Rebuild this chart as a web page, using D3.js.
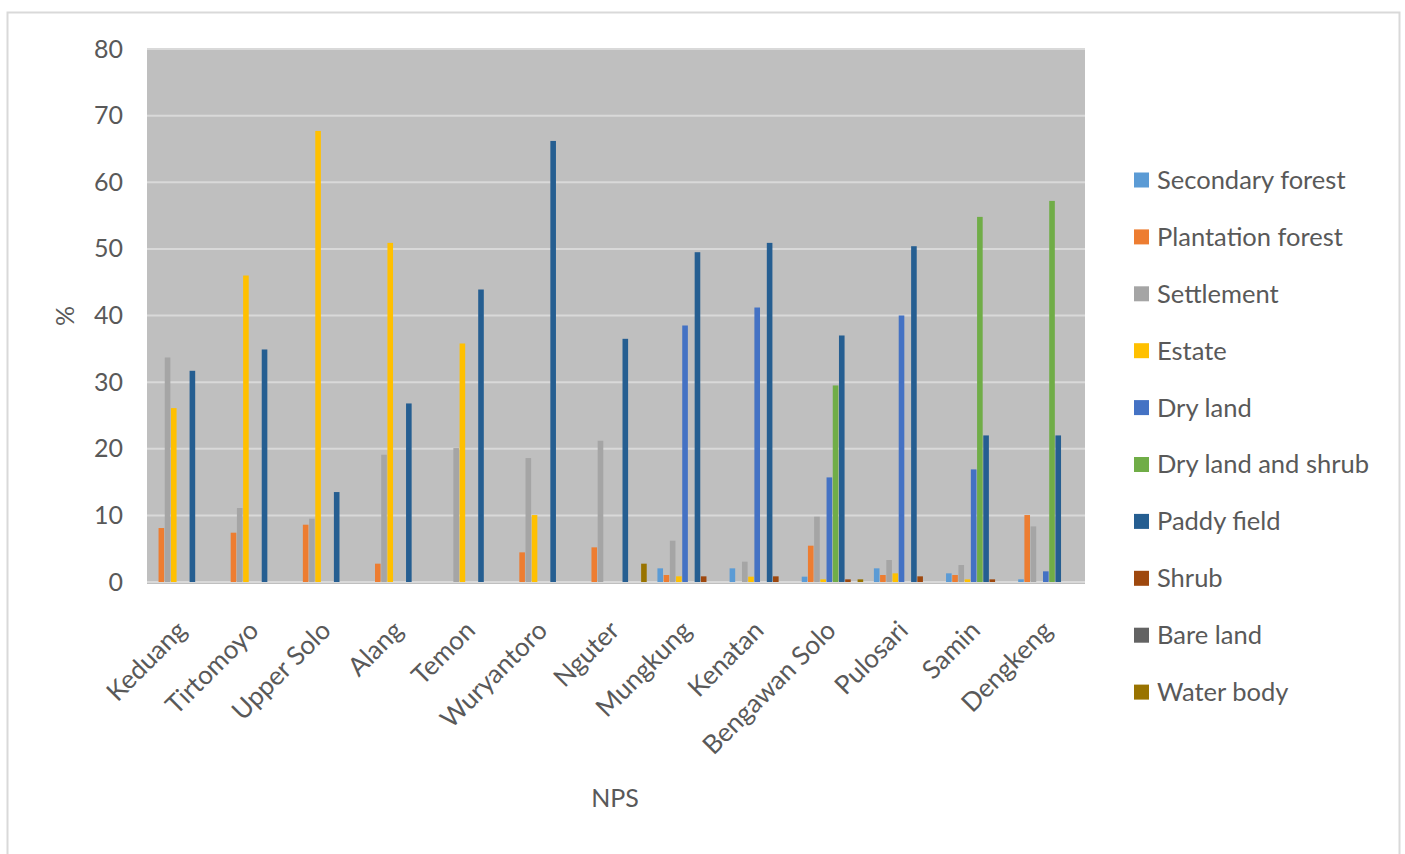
<!DOCTYPE html>
<html><head><meta charset="utf-8">
<script src="https://cdn.jsdelivr.net/npm/d3@7"></script>
<style>body{margin:0;background:#fff}svg{display:block}</style>
</head><body>
<svg id="c" width="1405" height="854"></svg>
<script>
const categories = ["Keduang","Tirtomoyo","Upper Solo","Alang","Temon","Wuryantoro","Nguter","Mungkung","Kenatan","Bengawan Solo","Pulosari","Samin","Dengkeng"];
const seriesNames = ["Secondary forest","Plantation forest","Settlement","Estate","Dry land","Dry land and shrub","Paddy field","Shrub","Bare land","Water body"];
const seriesColors = ["#5B9BD5","#ED7D31","#A5A5A5","#FFC000","#4472C4","#70AD47","#255E91","#9E480E","#636363","#997300"];
// values per series, in category order
const secondaryForest = [0,0,0,0,0,0,0,2.05,2.05,0.8,2.05,1.3,0.4];
const plantationForest = [8.1,7.4,8.6,2.75,0,4.45,5.2,1.05,0,5.45,1.05,1.05,10.05];
const settlement = [33.7,11.1,9.5,19.1,20.1,18.6,21.2,6.2,3.05,9.8,3.3,2.55,8.35];
const estate = [26.1,46.0,67.7,50.9,35.8,10.05,0,0.85,0.8,0.4,1.3,0.4,0];
const dryLand = [0,0,0,0,0,0,0,38.5,41.2,15.7,40.0,16.9,1.6];
const dryLandShrub = [0,0,0,0,0,0,0,0,0,29.5,0,54.8,57.2];
const paddyField = [31.7,34.9,13.5,26.8,43.9,66.2,36.5,49.5,50.9,37.0,50.4,22.0,22.0];
const shrub = [0,0,0,0,0,0,0,0.85,0.85,0.4,0.85,0.4,0];
const bareLand = [0,0,0,0,0,0,0,0,0,0,0,0,0];
const waterBody = [0,0,0,0,0,0,2.75,0,0,0.4,0,0,0];
const yTicks = [0,10,20,30,40,50,60,70,80];

const seriesValues = [secondaryForest,plantationForest,settlement,estate,dryLand,dryLandShrub,paddyField,shrub,bareLand,waterBody];

const svg = d3.select("#c");
const font = "Lato, 'Open Sans', sans-serif";
const textColor = "#595959";

// outer frame
svg.append("rect").attr("x",7.5).attr("y",12.5).attr("width",1392).attr("height",860)
  .attr("fill","#fff").attr("stroke","#d9d9d9").attr("stroke-width",2);

const plot = {left:147, right:1085, top:49, bottom:582};

const x0 = d3.scaleBand().domain(categories).range([plot.left, plot.right]).paddingInner(0.14).paddingOuter(0.07);
const x1 = d3.scaleBand().domain(seriesNames).range([0, x0.bandwidth()]).padding(0);
const y = d3.scaleLinear().domain([0,80]).range([plot.bottom, plot.top]);

svg.append("rect").attr("x",plot.left).attr("y",plot.top).attr("width",plot.right-plot.left).attr("height",plot.bottom-plot.top+2)
  .attr("fill","#bfbfbf");

// gridlines
svg.append("g").selectAll("line").data(yTicks).join("line")
  .attr("x1",plot.left).attr("x2",plot.right)
  .attr("y1",d=>y(d)).attr("y2",d=>y(d))
  .attr("stroke","#d9d9d9").attr("stroke-width",2);

// y axis labels
const yAxis = d3.axisLeft(y).tickValues(yTicks).tickSize(0).tickPadding(24);
const ya = svg.append("g").attr("transform",`translate(${plot.left},0)`).call(yAxis);
ya.select(".domain").remove();
ya.selectAll("text").attr("font-family",font).attr("font-size",25).attr("fill",textColor);

// bars
const groups = svg.append("g").selectAll("g").data(categories).join("g")
  .attr("transform",d=>`translate(${x0(d)},0)`);
groups.selectAll("rect").data((c,ci)=>seriesNames.map((s,si)=>({s,si,v:seriesValues[si][ci]})))
  .join("rect")
  .attr("x",d=>x1(d.s)+0.3).attr("width",x1.bandwidth()-0.6)
  .attr("y",d=>y(d.v)).attr("height",d=>y(0)-y(d.v))
  .attr("fill",d=>seriesColors[d.si]);

// x axis labels
const xAxis = d3.axisBottom(x0).tickSize(0).tickPadding(0);
const xa = svg.append("g").attr("transform",`translate(0,${plot.bottom+14})`).call(xAxis);
xa.select(".domain").remove();
xa.selectAll("text").attr("font-family",font).attr("font-size",26).attr("fill",textColor)
  .attr("text-anchor","end").attr("dy","0").attr("dx","0").attr("y",0)
  .attr("transform","translate(5,36) rotate(-45)");

// axis titles
svg.append("text").attr("transform","translate(74,316) rotate(-90)").attr("text-anchor","middle")
  .attr("font-family",font).attr("font-size",25).attr("fill",textColor).text("%");
svg.append("text").attr("x",615).attr("y",807).attr("text-anchor","middle")
  .attr("font-family",font).attr("font-size",25).attr("fill",textColor).text("NPS");

// legend
const leg = svg.append("g").selectAll("g").data(seriesNames).join("g")
  .attr("transform",(d,i)=>`translate(1134,${180+i*56.9})`);
leg.append("rect").attr("x",0).attr("y",-7.5).attr("width",15).attr("height",15).attr("fill",(d,i)=>seriesColors[i]);
leg.append("text").attr("x",23).attr("y",0).attr("dy","0.35em")
  .attr("font-family",font).attr("font-size",25.5).attr("fill",textColor).text(d=>d);
</script>
</body></html>
